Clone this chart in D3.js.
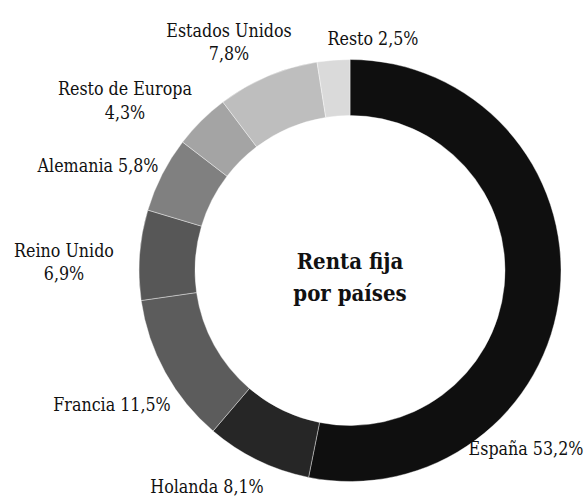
<!DOCTYPE html>
<html>
<head>
<meta charset="utf-8">
<script src="https://cdn.jsdelivr.net/npm/d3@7"></script>
<style>
  html, body { margin: 0; padding: 0; background: #ffffff; }
  svg { display: block; }
  text { font-family: "DejaVu Serif Condensed", "DejaVu Serif", serif; fill: #111111; }
</style>
</head>
<body>
<svg id="chart" width="587" height="498"></svg>
<script>
// ---- data ----
const countries = ["España", "Holanda", "Francia", "Reino Unido", "Alemania", "Resto de Europa", "Estados Unidos", "Resto"];
const shares = [53.2, 8.1, 11.5, 6.9, 5.8, 4.3, 7.8, 2.5];
const shareLabels = ["53,2%", "8,1%", "11,5%", "6,9%", "5,8%", "4,3%", "7,8%", "2,5%"];
const sliceColors = ["#0f0f0f", "#262626", "#5c5c5c", "#575757", "#808080", "#a4a4a4", "#bebebe", "#dadada"];
const titleLines = ["Renta fija", "por países"];

// ---- layout (label placement relative to center, first-line baseline) ----
const labelLayout = [
  { dx: 176, dy: 184.5, lines: 1 },
  { dx: -143, dy: 222, lines: 1 },
  { dx: -238, dy: 140, lines: 1 },
  { dx: -286, dy: -14, lines: 2 },
  { dx: -252, dy: -99, lines: 1 },
  { dx: -225, dy: -175.5, lines: 2 },
  { dx: -121, dy: -234, lines: 2 },
  { dx: 23, dy: -225.5, lines: 1 }
];

const cx = 350, cy = 270.5, outerR = 211, innerR = 155;
const svg = d3.select("#chart");
const g = svg.append("g").attr("transform", `translate(${cx},${cy})`);

const data = countries.map((c, i) => ({ name: c, value: shares[i], label: shareLabels[i], color: sliceColors[i], layout: labelLayout[i] }));

const pie = d3.pie().value(d => d.value).sort(null);
const arc = d3.arc().innerRadius(innerR).outerRadius(outerR);

g.selectAll("path.slice")
  .data(pie(data))
  .join("path")
  .attr("class", "slice")
  .attr("d", arc)
  .attr("fill", d => d.data.color)
  .attr("stroke", "#ffffff")
  .attr("stroke-width", 0.4);

const labels = g.selectAll("text.lbl")
  .data(data)
  .join("text")
  .attr("class", "lbl")
  .attr("text-anchor", "middle")
  .attr("font-size", 17.7)
  .attr("x", d => d.layout.dx)
  .attr("y", d => d.layout.dy);

labels.each(function(d) {
  const t = d3.select(this);
  if (d.layout.lines === 2) {
    t.append("tspan").attr("x", d.layout.dx).attr("y", d.layout.dy).text(d.name);
    t.append("tspan").attr("x", d.layout.dx).attr("y", d.layout.dy + 23.5).text(d.label);
  } else {
    t.text(d.name + " " + d.label);
  }
});

const title = g.append("text")
  .attr("text-anchor", "middle")
  .attr("font-size", 22)
  .attr("font-weight", "bold");
titleLines.forEach((l, i) => {
  title.append("tspan").attr("x", 0).attr("y", -1.5 + i * 31.5).text(l);
});
</script>
</body>
</html>
